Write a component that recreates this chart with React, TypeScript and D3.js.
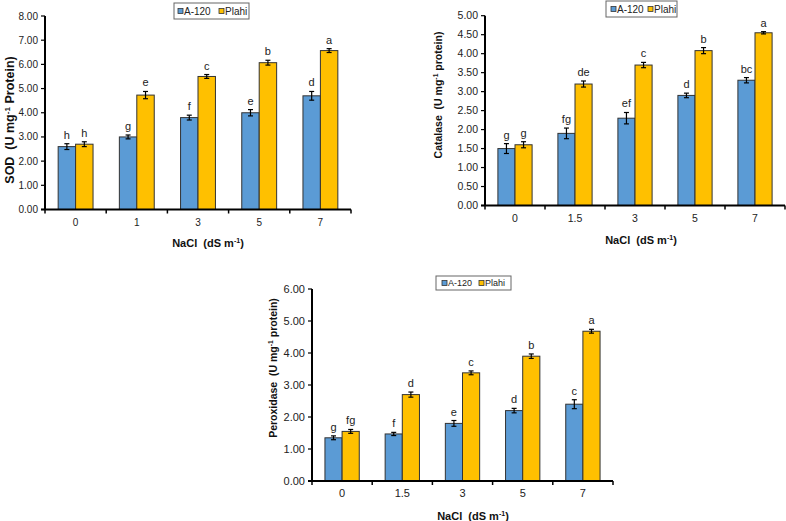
import React from "react";
import * as d3 from "d3";

// ---------- DATA ----------
const seriesNames = ["A-120", "Plahi"];

const sodCategories = ["0", "1", "3", "5", "7"];
const sodA120 = [2.6, 3.0, 3.8, 4.0, 4.7];
const sodPlahi = [2.7, 4.73, 5.5, 6.07, 6.57];
const sodA120Err = [0.12, 0.08, 0.1, 0.13, 0.18];
const sodPlahiErr = [0.1, 0.15, 0.08, 0.1, 0.08];
const sodA120Letters = ["h", "g", "f", "e", "d"];
const sodPlahiLetters = ["h", "e", "c", "b", "a"];

const catCategories = ["0", "1.5", "3", "5", "7"];
const catA120 = [1.5, 1.9, 2.3, 2.9, 3.3];
const catPlahi = [1.6, 3.2, 3.7, 4.08, 4.55];
const catA120Err = [0.13, 0.14, 0.15, 0.06, 0.07];
const catPlahiErr = [0.08, 0.08, 0.07, 0.08, 0.03];
const catA120Letters = ["g", "fg", "ef", "d", "bc"];
const catPlahiLetters = ["g", "de", "c", "b", "a"];

const poxCategories = ["0", "1.5", "3", "5", "7"];
const poxA120 = [1.35, 1.47, 1.8, 2.2, 2.4];
const poxPlahi = [1.55, 2.7, 3.38, 3.9, 4.68];
const poxA120Err = [0.06, 0.05, 0.09, 0.07, 0.14];
const poxPlahiErr = [0.06, 0.08, 0.06, 0.07, 0.06];
const poxA120Letters = ["g", "f", "e", "d", "c"];
const poxPlahiLetters = ["fg", "d", "c", "b", "a"];

const COLORS = ["#5B9BD5", "#FFC000"];
const FONT = "'Liberation Sans', Arial, sans-serif";

function Chart(props: any) {
  const {
    cats, a, b, aErr, bErr, aLbl, bLbl, yMax, yStep,
    x0, x1, yTop, yBottom, yTitle, yTitleX, yTitleY, yTitleSize,
    xTitleX, xTitleY, xTickY, legend, tickFont,
  } = props;
  const x = d3.scaleBand<string>().domain(cats).range([x0, x1]).paddingInner(0.43).paddingOuter(0.215);
  const sub = d3.scaleBand<string>().domain(seriesNames).range([0, x.bandwidth()]);
  const y = d3.scaleLinear().domain([0, yMax]).range([yBottom, yTop]);
  const ticks = d3.range(0, yMax + yStep / 2, yStep);
  const step = (x1 - x0) / cats.length;
  const vals = [a, b];
  const errs = [aErr, bErr];
  const lbls = [aLbl, bLbl];
  return (
    <g fontFamily={FONT}>
      {cats.map((c: string, i: number) =>
        seriesNames.map((s, k) => {
          const bx = (x(c) as number) + (sub(s) as number);
          const v = vals[k][i];
          const e = errs[k][i];
          const cx = bx + sub.bandwidth() / 2;
          return (
            <g key={c + s}>
              <rect x={bx} y={y(v)} width={sub.bandwidth()} height={yBottom - y(v)} fill={COLORS[k]} stroke="#333" strokeWidth={1} />
              <line x1={cx} x2={cx} y1={y(v - e)} y2={y(v + e)} stroke="#000" strokeWidth={1.2} />
              <line x1={cx - 2.5} x2={cx + 2.5} y1={y(v - e)} y2={y(v - e)} stroke="#000" strokeWidth={1.2} />
              <line x1={cx - 2.5} x2={cx + 2.5} y1={y(v + e)} y2={y(v + e)} stroke="#000" strokeWidth={1.2} />
              <text x={cx} y={y(v + e) - 5} textAnchor="middle" fontSize={11} fill="#222">{lbls[k][i]}</text>
            </g>
          );
        })
      )}
      <line x1={x0} x2={x0} y1={yTop} y2={yBottom} stroke="#000" strokeWidth={2} />
      {ticks.map((t: number) => (
        <g key={t}>
          <line x1={x0 - 4} x2={x0} y1={y(t)} y2={y(t)} stroke="#000" strokeWidth={1.2} />
          <text x={x0 - 7} y={y(t) + 3.5} textAnchor="end" fontSize={tickFont} fill="#222">{t.toFixed(2)}</text>
        </g>
      ))}
      <line x1={x0 - 4} x2={x1} y1={yBottom} y2={yBottom} stroke="#000" strokeWidth={2} />
      {d3.range(cats.length + 1).map((i: number) => (
        <line key={i} x1={x0 + i * step} x2={x0 + i * step} y1={yBottom} y2={yBottom + 4} stroke="#000" strokeWidth={1.5} />
      ))}
      {cats.map((c: string) => (
        <text key={c} x={(x(c) as number) + x.bandwidth() / 2} y={xTickY} textAnchor="middle" fontSize={tickFont} fill="#222">{c}</text>
      ))}
      <text x={xTitleX} y={xTitleY} textAnchor="middle" fontSize={11} fontWeight="bold" fill="#111" style={{ whiteSpace: "pre" }}>
        {"NaCl  (dS m"}<tspan fontSize={7} dy={-4}>-1</tspan><tspan dy={4}>)</tspan>
      </text>
      <text transform={`translate(${yTitleX},${yTitleY}) rotate(-90)`} textAnchor="middle" fontSize={yTitleSize} fontWeight="bold" fill="#111"
        style={{ whiteSpace: "pre" }}>
        {yTitle[0]}<tspan fontSize={yTitleSize * 0.65} dy={-4}>-1</tspan><tspan dy={4}>{yTitle[1]}</tspan>
      </text>
      <g>
        <rect x={legend.x} y={legend.y} width={legend.w} height={legend.h} fill="#fff" stroke="#666" strokeWidth={1} />
        {seriesNames.map((s, k) => (
          <g key={s}>
            <rect x={legend.x + legend.off[k]} y={legend.y + legend.h / 2 - 2.5} width={5} height={5} fill={COLORS[k]} stroke="#333" strokeWidth={0.8} />
            <text x={legend.x + legend.off[k] + 6} y={legend.y + legend.h / 2 + legend.fs * 0.35} fontSize={legend.fs} fill="#222">{s}</text>
          </g>
        ))}
      </g>
    </g>
  );
}

export default function App() {
  return (
    <svg width={786} height={521} style={{ position: "absolute", left: 0, top: 0, background: "#fff" }}>
      <rect width={786} height={521} fill="#fff" />
      <Chart
        cats={sodCategories} a={sodA120} b={sodPlahi} aErr={sodA120Err} bErr={sodPlahiErr}
        aLbl={sodA120Letters} bLbl={sodPlahiLetters} yMax={8} yStep={1}
        x0={45} x1={351} yTop={16} yBottom={209.5}
        yTitle={["SOD  (U mg", " Protein)"]} yTitleX={14} yTitleY={120} yTitleSize={12.5}
        xTitleX={208} xTitleY={247} xTickY={226} tickFont={10}
        legend={{ x: 174, y: 3, w: 75, h: 16, fs: 10, off: [4, 45] }}
      />
      <Chart
        cats={catCategories} a={catA120} b={catPlahi} aErr={catA120Err} bErr={catPlahiErr}
        aLbl={catA120Letters} bLbl={catPlahiLetters} yMax={5} yStep={0.5}
        x0={485} x1={785} yTop={15.7} yBottom={205.5}
        yTitle={["Catalase  (U mg", " protein)"]} yTitleX={442} yTitleY={95} yTitleSize={10.5}
        xTitleX={641} xTitleY={244} xTickY={222} tickFont={10.5}
        legend={{ x: 606, y: 1, w: 71, h: 16, fs: 10, off: [5, 42] }}
      />
      <Chart
        cats={poxCategories} a={poxA120} b={poxPlahi} aErr={poxA120Err} bErr={poxPlahiErr}
        aLbl={poxA120Letters} bLbl={poxPlahiLetters} yMax={6} yStep={1}
        x0={312} x1={613} yTop={289} yBottom={481}
        yTitle={["Peroxidase  (U mg", " protein)"]} yTitleX={277} yTitleY={368} yTitleSize={10.5}
        xTitleX={473} xTitleY={520} xTickY={497} tickFont={11}
        legend={{ x: 436, y: 276, w: 75, h: 14, fs: 9, off: [6, 43] }}
      />
    </svg>
  );
}
